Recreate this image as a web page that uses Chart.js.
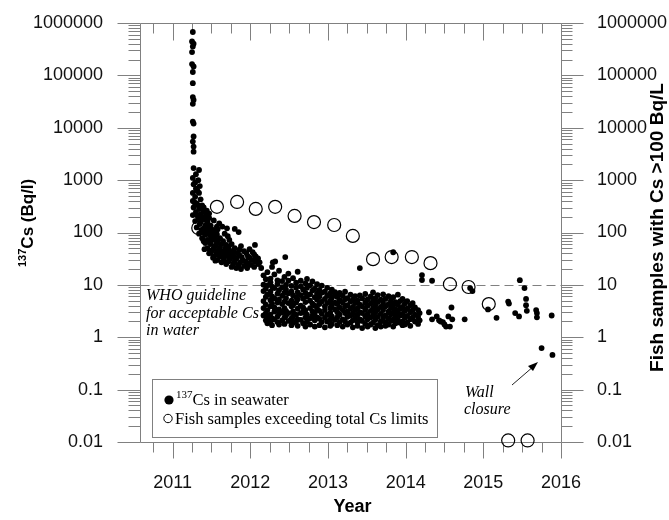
<!DOCTYPE html>
<html>
<head>
<meta charset="utf-8">
<script src="https://cdn.jsdelivr.net/npm/chart.js@4.4.1/dist/chart.umd.min.js"></script>
<style>
  html, body { margin: 0; padding: 0; background: #fff; }
</style>
</head>
<body>
<canvas id="chart" width="669" height="520"></canvas>
<script>
// ticks
const yearTicks = [2011, 2012, 2013, 2014, 2015, 2016];
const decadeTicks = [0.01, 0.1, 1, 10, 100, 1000, 10000, 100000, 1000000];
const whoGuideline = 10;

// 137Cs in seawater, [year, Bq/l]
const seaSpike2011 = [
  [2011.26, 673000], [2011.25, 445000], [2011.27, 402000], [2011.26, 357000], [2011.25, 279000],
  [2011.25, 164000], [2011.27, 148000], [2011.26, 116000], [2011.26, 71000], [2011.26, 38500],
  [2011.27, 34000], [2011.26, 28600], [2011.26, 13100], [2011.27, 12000], [2011.27, 6800],
  [2011.26, 5450], [2011.27, 4380], [2011.27, 3500]
];

const seaDecline2011 = [
  [2011.27, 1700], [2011.34, 1560], [2011.30, 1300], [2011.26, 1100], [2011.33, 1000], [2011.27, 830],
  [2011.35, 770], [2011.30, 690], [2011.26, 570], [2011.34, 570], [2011.29, 480], [2011.36, 430],
  [2011.26, 400], [2011.31, 360], [2011.38, 330], [2011.27, 300], [2011.34, 280], [2011.40, 255],
  [2011.30, 245], [2011.36, 225], [2011.26, 215], [2011.43, 210], [2011.33, 190], [2011.39, 175],
  [2011.29, 165], [2011.45, 160], [2011.35, 145], [2011.42, 135], [2011.49, 135], [2011.31, 125],
  [2011.37, 112], [2011.45, 108], [2011.53, 112], [2011.34, 95], [2011.42, 90], [2011.49, 86],
  [2011.57, 93], [2011.38, 78], [2011.45, 72], [2011.53, 72], [2011.61, 78], [2011.42, 63],
  [2011.49, 60], [2011.57, 63], [2011.65, 68], [2011.73, 72], [2011.45, 50], [2011.53, 50],
  [2011.61, 52], [2011.69, 58], [2011.76, 60], [2011.49, 42], [2011.57, 42], [2011.65, 44],
  [2011.73, 46], [2011.80, 50], [2011.88, 55], [2011.53, 35], [2011.61, 35], [2011.69, 37],
  [2011.76, 38], [2011.84, 40], [2011.92, 44], [2011.99, 48], [2011.58, 30], [2011.66, 30],
  [2011.74, 31], [2011.82, 32], [2011.89, 34], [2011.97, 35], [2012.05, 38], [2011.69, 25],
  [2011.78, 25], [2011.87, 27], [2011.94, 28], [2012.02, 30], [2012.10, 32], [2011.82, 21],
  [2011.92, 23], [2012.01, 24], [2012.10, 25], [2012.14, 21], [2011.80, 117], [2011.85, 102],
  [2011.57, 130], [2011.67, 95], [2012.06, 58], [2011.71, 85], [2011.40, 300], [2011.44, 260],
  [2011.47, 230], [2011.47, 190], [2011.53, 170], [2011.60, 150], [2011.64, 130], [2011.70, 120],
  [2011.58, 115], [2011.41, 48], [2011.47, 40], [2011.52, 33], [2011.55, 29],
  [2011.29, 900], [2011.32, 620], [2011.28, 380], [2011.33, 330], [2011.37, 290], [2011.32, 210],
  [2011.38, 200], [2011.41, 180], [2011.36, 160], [2011.44, 145], [2011.40, 120], [2011.47, 118],
  [2011.51, 100], [2011.39, 100], [2011.45, 95], [2011.55, 85], [2011.50, 75], [2011.58, 70],
  [2011.40, 68], [2011.47, 66], [2011.63, 60], [2011.55, 56], [2011.68, 50], [2011.51, 46],
  [2011.59, 46], [2011.72, 52], [2011.63, 40], [2011.79, 44], [2011.71, 41], [2011.56, 38],
  [2011.86, 47], [2011.65, 34], [2011.72, 34], [2011.79, 35], [2011.95, 40], [2011.86, 37],
  [2012.03, 42], [2011.63, 27], [2011.72, 28], [2011.80, 28], [2011.90, 30], [2011.99, 33],
  [2012.07, 35], [2011.76, 22], [2011.85, 24], [2011.97, 26], [2012.06, 28], [2011.88, 20],
  [2011.96, 21], [2012.05, 22], [2012.12, 27],
  [2012.45, 34], [2012.29, 27], [2012.32, 28], [2012.28, 22]
];

// 2012.2 - 2014.2 plateau, one row per column of dots: [year, values]
const seaPlateauRows = [
  [2012.17, [15.2, 10.1, 7.6, 4.9, 3.6, 2.6]],
  [2012.20, [12.8, 8.4, 5.9, 4.2, 2.9, 2.1]],
  [2012.22, [17.5, 9.8, 6.5, 3.3, 2.4, 1.85]],
  [2012.26, [13.2, 11.2, 7.4, 5.1, 3.9, 2.7, 2.0]],
  [2012.28, [9.3, 6.0, 4.4, 2.3, 1.7]],
  [2012.31, [15.8, 8.7, 5.5, 3.7, 3.1, 2.2]],
  [2012.35, [12.2, 10.4, 6.8, 4.6, 2.5, 1.95]],
  [2012.37, [18.6, 7.9, 5.2, 3.4, 2.8, 1.75]],
  [2012.41, [11.8, 9.0, 6.2, 4.3, 3.0, 2.1]],
  [2012.44, [14.2, 7.1, 4.8, 3.6, 2.4, 1.8]],
  [2012.46, [10.0, 8.1, 5.6, 3.2, 2.6]],
  [2012.49, [16.4, 12.0, 6.9, 4.5, 2.9, 2.05]],
  [2012.53, [9.6, 7.5, 5.0, 3.9, 2.3, 1.7]],
  [2012.55, [13.4, 6.3, 4.1, 3.1, 2.5, 1.9]],
  [2012.59, [11.0, 8.9, 5.8, 4.6, 2.7, 2.0]],
  [2012.61, [17.8, 7.2, 5.3, 3.5, 2.2, 1.65]],
  [2012.65, [12.0, 9.4, 6.4, 4.0, 2.9, 2.15]],
  [2012.68, [8.2, 5.5, 3.7, 3.0, 1.85]],
  [2012.71, [10.7, 7.0, 4.7, 3.3, 2.4, 1.6]],
  [2012.73, [13.0, 8.8, 6.0, 2.7, 2.0]],
  [2012.77, [9.8, 6.6, 5.0, 3.6, 2.3, 1.75]],
  [2012.80, [11.6, 7.8, 4.4, 3.1, 2.55]],
  [2012.83, [8.5, 5.8, 4.0, 2.9, 2.1, 1.6]],
  [2012.86, [10.3, 6.9, 5.2, 3.5, 2.4]],
  [2012.89, [8.0, 6.0, 4.3, 3.2, 2.25, 1.7]],
  [2012.92, [9.7, 7.1, 4.8, 2.8, 1.95]],
  [2012.96, [7.4, 5.4, 3.9, 3.3, 2.35, 1.55]],
  [2012.99, [8.8, 6.2, 4.5, 2.7, 2.0]],
  [2013.03, [6.9, 5.0, 3.6, 2.95, 2.2, 1.65]],
  [2013.05, [8.1, 5.7, 4.1, 2.5, 1.8]],
  [2013.09, [7.3, 6.3, 4.6, 3.4, 2.15]],
  [2013.12, [5.9, 4.3, 3.0, 2.4, 1.7]],
  [2013.15, [7.0, 5.1, 3.7, 2.7, 1.95]],
  [2013.19, [6.2, 4.6, 3.3, 2.2, 1.6]],
  [2013.22, [7.4, 5.3, 3.9, 2.9, 2.0]],
  [2013.25, [5.6, 4.1, 3.1, 2.45, 1.75]],
  [2013.29, [6.5, 4.8, 3.5, 2.6, 1.9]],
  [2013.32, [5.2, 3.8, 2.85, 2.1, 1.55]],
  [2013.35, [6.1, 4.5, 3.3, 2.35]],
  [2013.38, [5.0, 3.6, 2.7, 1.95, 1.65]],
  [2013.41, [20.9, 6.3, 4.2, 3.0, 2.2]],
  [2013.44, [5.5, 3.9, 2.9, 2.05, 1.5]],
  [2013.48, [6.7, 4.6, 3.4, 2.5, 1.8]],
  [2013.51, [5.3, 4.0, 2.8, 2.2, 1.6]],
  [2013.55, [6.0, 4.4, 3.2, 2.4, 1.75]],
  [2013.58, [7.2, 5.0, 3.6, 2.6, 1.9]],
  [2013.61, [5.6, 4.1, 3.0, 2.15, 1.5]],
  [2013.64, [6.4, 4.7, 3.4, 2.45, 1.7]],
  [2013.68, [5.2, 3.8, 2.8, 2.0, 1.6]],
  [2013.71, [6.6, 4.5, 3.3, 2.35]],
  [2013.74, [5.4, 3.9, 2.6, 1.95, 1.65]],
  [2013.78, [6.1, 4.3, 3.1, 2.3, 1.75]],
  [2013.81, [5.0, 3.6, 2.75, 2.05]],
  [2013.84, [5.8, 4.1, 2.95, 2.2, 1.6]],
  [2013.87, [4.7, 3.4, 2.5, 1.85]],
  [2013.90, [6.5, 4.2, 3.0, 2.15]],
  [2013.93, [4.9, 3.5, 2.6, 1.9]],
  [2013.96, [5.4, 3.8, 2.8, 2.0, 1.7]],
  [2013.99, [4.4, 3.2, 2.35, 1.75]],
  [2014.02, [4.9, 3.5, 2.55, 1.9]],
  [2014.06, [4.1, 3.0, 2.2, 1.65]],
  [2014.09, [4.5, 3.3, 2.4]],
  [2014.12, [3.7, 2.7, 2.0]],
  [2014.16, [3.3, 2.45, 1.8]],
  [2014.18, [2.9, 2.1]]
];

const seaLate = [
  [2013.84, 42], [2014.21, 15.4], [2014.21, 12.4], [2014.34, 12.0], [2014.30, 3.0], [2014.34, 2.2],
  [2014.40, 2.5], [2014.43, 2.1], [2014.45, 2.0], [2014.48, 1.95], [2014.50, 1.75], [2014.52, 1.6],
  [2014.55, 2.5], [2014.59, 3.7], [2014.60, 2.2], [2014.57, 1.6], [2014.76, 2.2], [2014.83, 8.7],
  [2014.86, 7.6], [2015.06, 3.4], [2015.17, 2.35], [2015.32, 4.8], [2015.33, 4.4], [2015.41, 2.9],
  [2015.46, 2.5], [2015.47, 12.3], [2015.53, 8.7], [2015.55, 5.4], [2015.55, 4.1], [2015.56, 3.2],
  [2015.68, 3.3], [2015.69, 2.9], [2015.69, 2.4], [2015.88, 2.6], [2015.75, 0.62], [2015.89, 0.46]
];

// fish samples exceeding total Cs limits
const fishYears = [2011.33, 2011.57, 2011.83, 2012.07, 2012.32, 2012.57, 2012.82, 2013.08, 2013.32,
  2013.58, 2013.82, 2014.08, 2014.32, 2014.57, 2014.81, 2015.07, 2015.32, 2015.57];
const fishValues = [122, 309, 383, 282, 309, 207, 158, 139, 86, 31, 34, 34, 26, 10.3, 9.1, 4.3, 0.0107, 0.0107];

const axisGrey = '#808080';
const sans = "'Liberation Sans', Arial, sans-serif";
const serif = "'Liberation Serif', 'Times New Roman', serif";

const seaPoints = [];
seaSpike2011.forEach(p => seaPoints.push({ x: p[0], y: p[1] }));
seaDecline2011.forEach(p => seaPoints.push({ x: p[0], y: p[1] }));
seaPlateauRows.forEach(r => r[1].forEach(v => seaPoints.push({ x: r[0], y: v })));
seaLate.forEach(p => seaPoints.push({ x: p[0], y: p[1] }));

const fishPoints = fishYears.map((yr, i) => ({ x: yr, y: fishValues[i] }));

function line(ctx, x1, y1, x2, y2) {
  ctx.beginPath();
  ctx.moveTo(x1, y1);
  ctx.lineTo(x2, y2);
  ctx.stroke();
}

const px = v => Math.round(v) + 0.5;

/* frame, ticks and the WHO line
# ------------------------------------------------------------------------------------------------
*/
const framePlugin = {
  id: 'frame',
  beforeDatasetsDraw(chart) {
    const ctx = chart.ctx;
    const { left, right, top, bottom } = chart.chartArea;
    const xs = chart.scales.x, ys = chart.scales.y;
    const L = px(left), R = px(right), T = px(top), B = px(bottom);

    ctx.save();
    ctx.strokeStyle = axisGrey;
    ctx.lineWidth = 1;
    line(ctx, L, T, L, B);
    line(ctx, R, T, R, B);
    line(ctx, L, T, R, T);
    line(ctx, L, B, R, B);

    // log ticks, outward on both sides
    for (let e = -2; e <= 6; e++) {
      for (let m = 1; m <= 9; m++) {
        const v = m * Math.pow(10, e);
        if (v > 1000000 * 1.0001) break;
        const y = px(ys.getPixelForValue(v));
        const major = m === 1;
        line(ctx, L - (major ? 23 : 12), y, L, y);
        line(ctx, R, y, R + (major ? 22 : 11), y);
      }
    }

    // quarter-year ticks
    for (let k = 0; k <= 21; k++) {
      const q = 2010.75 + k * 0.25;
      const x = px(xs.getPixelForValue(q));
      const major = k % 4 === 1;
      line(ctx, x, B, x, B + (major ? 16 : 10));
      line(ctx, x, T, x, T + (major ? 17 : 10));
    }

    // WHO guideline
    const gy = px(ys.getPixelForValue(whoGuideline));
    ctx.setLineDash([9, 5]);
    line(ctx, L, gy, R, gy);
    ctx.restore();
  },

  afterDraw(chart) {
    const ctx = chart.ctx;
    const { left, right, top, bottom } = chart.chartArea;
    ctx.save();
    ctx.fillStyle = '#000';

    // axis titles
    ctx.save();
    ctx.translate(33, 267);
    ctx.rotate(-Math.PI / 2);
    ctx.textBaseline = 'alphabetic';
    ctx.textAlign = 'left';
    ctx.font = 'bold 11px ' + sans;
    ctx.fillText('137', 0, -7);
    const w = ctx.measureText('137').width;
    ctx.font = 'bold 17px ' + sans;
    ctx.fillText('Cs (Bq/l)', w, 0);
    ctx.restore();

    ctx.save();
    ctx.translate(658, (top + bottom) / 2 - 5);
    ctx.rotate(-Math.PI / 2);
    ctx.textAlign = 'center';
    ctx.textBaseline = 'middle';
    ctx.font = 'bold 19px ' + sans;
    ctx.fillText('Fish samples with Cs >100 Bq/L', 0, 0);
    ctx.restore();

    ctx.textAlign = 'center';
    ctx.textBaseline = 'middle';
    ctx.font = 'bold 18px ' + sans;
    ctx.fillText('Year', (left + right) / 2 + 2, 507);

    // WHO note
    ctx.textAlign = 'left';
    ctx.textBaseline = 'alphabetic';
    ctx.font = 'italic 16px ' + serif;
    ctx.fillText('WHO guideline', 146, 300);
    ctx.fillText('for acceptable Cs', 146, 317.5);
    ctx.fillText('in water', 146, 335);

    // wall closure note and arrow
    ctx.fillText('Wall', 465, 397);
    ctx.fillText('closure', 464, 414);
    ctx.strokeStyle = '#222';
    ctx.lineWidth = 1;
    line(ctx, 512, 385, 534, 366);
    ctx.beginPath();
    ctx.moveTo(538, 362);
    ctx.lineTo(528, 366);
    ctx.lineTo(533, 371);
    ctx.closePath();
    ctx.fill();

    // legend box
    ctx.fillStyle = '#fff';
    ctx.fillRect(152.5, 379.5, 285, 58);
    ctx.strokeStyle = axisGrey;
    ctx.strokeRect(152.5, 379.5, 285, 58);
    ctx.fillStyle = '#000';
    ctx.beginPath();
    ctx.arc(169, 400, 4.6, 0, Math.PI * 2);
    ctx.fill();
    ctx.font = '11px ' + serif;
    ctx.fillText('137', 176, 398);
    const w2 = ctx.measureText('137').width;
    ctx.font = '16.5px ' + serif;
    ctx.fillText('Cs in seawater', 176 + w2, 405);
    ctx.strokeStyle = '#000';
    ctx.beginPath();
    ctx.arc(168, 418.5, 4.2, 0, Math.PI * 2);
    ctx.stroke();
    ctx.fillText('Fish samples exceeding total Cs limits', 175, 424);
    ctx.restore();
  }
};

// tick labels are pushed out with tickLength (marks themselves are drawn by the plugin)
new Chart(document.getElementById('chart'), {
  type: 'scatter',
  data: {
    datasets: [
      {
        label: '137Cs in seawater',
        data: seaPoints,
        pointRadius: 2.9,
        pointHoverRadius: 2.9,
        backgroundColor: '#000',
        borderWidth: 0,
        yAxisID: 'y'
      },
      {
        label: 'Fish samples exceeding total Cs limits',
        data: fishPoints,
        pointRadius: 6.5,
        pointHoverRadius: 6.5,
        backgroundColor: 'rgba(0,0,0,0)',
        borderColor: '#000',
        borderWidth: 1.2,
        clip: false,
        yAxisID: 'y'
      }
    ]
  },
  options: {
    responsive: false,
    animation: false,
    events: [],
    layout: { padding: { top: 23, left: 0, right: 0, bottom: 0 } },
    plugins: {
      legend: { display: false },
      tooltip: { enabled: false }
    },
    scales: {
      x: {
        type: 'linear',
        position: 'bottom',
        min: 2010.58,
        max: 2016,
        grid: { display: false, tickLength: 30 },
        border: { display: false },
        afterBuildTicks: axis => { axis.ticks = yearTicks.map(v => ({ value: v })); },
        afterFit: axis => { axis.height = 78; },
        ticks: {
          autoSkip: false,
          maxRotation: 0,
          padding: 0,
          color: '#111',
          font: { family: sans, size: 18 },
          callback: v => String(v)
        }
      },
      y: {
        type: 'logarithmic',
        position: 'left',
        min: 0.01,
        max: 1000000,
        grid: { display: false, tickLength: 37 },
        border: { display: false },
        afterBuildTicks: axis => { axis.ticks = decadeTicks.map(v => ({ value: v })); },
        afterFit: axis => { axis.width = 140; },
        ticks: {
          autoSkip: false,
          padding: 0,
          color: '#111',
          font: { family: sans, size: 18 },
          callback: v => String(v)
        }
      },
      y2: {
        type: 'logarithmic',
        position: 'right',
        min: 0.01,
        max: 1000000,
        grid: { display: false, tickLength: 36 },
        border: { display: false },
        afterBuildTicks: axis => { axis.ticks = decadeTicks.map(v => ({ value: v })); },
        afterFit: axis => { axis.width = 108; },
        ticks: {
          autoSkip: false,
          padding: 0,
          color: '#111',
          font: { family: sans, size: 18 },
          callback: v => String(v)
        }
      }
    }
  },
  plugins: [framePlugin]
});
</script>
</body>
</html>
